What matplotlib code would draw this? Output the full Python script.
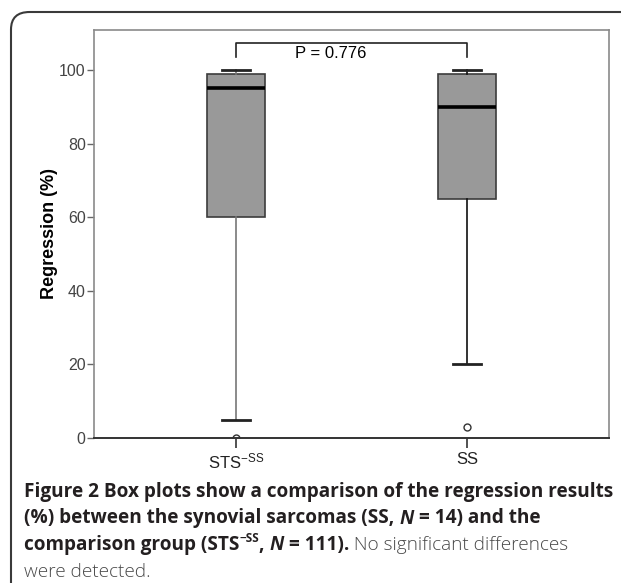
import numpy as np
import matplotlib
matplotlib.use("Agg")
import matplotlib.pyplot as plt
from matplotlib.patches import FancyBboxPatch

# ---------------------------------------------------------------------------
# Data
# ---------------------------------------------------------------------------
groups = ["STS$^{-SS}$", "SS"]
medians = [95, 90]
q1 = [60, 65]
q3 = [99, 99]
whisker_low = [5, 20]
whisker_high = [100, 100]
fliers = [[0], [3]]
p_text = "P = 0.776"

W, H = 621, 583
DPI = 100

plt.rcParams["font.family"] = ["Liberation Sans", "DejaVu Sans"]
plt.rcParams["mathtext.default"] = "regular"

fig = plt.figure(figsize=(W / DPI, H / DPI), dpi=DPI)

# rounded outer frame
frame = FancyBboxPatch((11 / W, -0.2), 1.2, 1.2 - 12 / H,
                       boxstyle="round,pad=0,rounding_size=0.03",
                       transform=fig.transFigure, fill=False,
                       ec="#3a3a3a", lw=1.5)
fig.patches.append(frame)

# plot area
ax = fig.add_axes([94 / W, 1 - 438 / H, (609 - 94) / W, (438 - 29.5) / H])

stats = []
for i, name in enumerate(groups):
    stats.append(dict(label=name, med=medians[i], q1=q1[i], q3=q3[i],
                      whislo=whisker_low[i], whishi=whisker_high[i],
                      fliers=fliers[i]))

pos = np.arange(1, len(groups) + 1)
res = ax.bxp(stats, positions=pos, widths=0.25, patch_artist=True,
             showfliers=True,
             boxprops=dict(facecolor="#999999", edgecolor="#3c3c3c", lw=1.2),
             medianprops=dict(color="black", lw=2.6),
             capprops=dict(lw=2.0),
             whiskerprops=dict(lw=1.2),
             flierprops=dict(marker="o", markersize=5, markerfacecolor="white",
                             markeredgecolor="#333333", markeredgewidth=1.0))
whisk_cols = ["#777777", "#111111"]
for i in range(len(groups)):
    for ln in res["whiskers"][2 * i:2 * i + 2]:
        ln.set_color(whisk_cols[i])
    for ln in res["caps"][2 * i:2 * i + 2]:
        ln.set_color("#222222")
        ln.set_xdata([pos[i] - 0.0625, pos[i] + 0.0625])
for fl in res["fliers"]:
    fl.set_zorder(2)

ax.set_xlim(0.385, 2.615)
ax.set_ylim(0, 111)
ax.set_yticks([0, 20, 40, 60, 80, 100])
ax.set_xticks(pos)
ax.set_xticklabels(groups)
ax.tick_params(axis="y", direction="out", length=5, width=1, colors="#666666",
               labelsize=11.5, pad=1, labelcolor="#444444")
ax.tick_params(axis="x", direction="out", length=7, width=1.2, colors="#333333",
               labelsize=12, pad=3, labelcolor="#222222")
for side in ["top", "right", "left"]:
    ax.spines[side].set_color("#8a8a8a")
    ax.spines[side].set_linewidth(1.2)
ax.spines["bottom"].set_color("#333333")
ax.spines["bottom"].set_linewidth(1.4)
ax.set_ylabel("Regression (%)", fontsize=13, fontweight="bold", labelpad=1)

# significance bracket
y_top, y_bot = 107.4, 103.6
ax.plot([pos[0], pos[0], pos[1], pos[1]], [y_bot, y_top, y_top, y_bot],
        color="#222222", lw=1.2)
ax.text(1.41, 104.4, p_text, ha="center", va="center", fontsize=12)

# ---------------------------------------------------------------------------
# Caption with mixed styles
# ---------------------------------------------------------------------------
renderer = fig.canvas.get_renderer()
CAP = ["Open Sans", "DejaVu Sans"]
size = 13.7
dark = "#231f20"
light = "#4a4a4a"


def width_of(s, **kw):
    t1 = fig.text(0, 0, "a" + s + "a", family=CAP, **kw)
    t2 = fig.text(0, 0, "aa", family=CAP, **kw)
    w = t1.get_window_extent(renderer).width - t2.get_window_extent(renderer).width
    t1.remove()
    t2.remove()
    return w


def draw_line(x, y, pieces):
    for s, kw in pieces:
        kw = dict(kw)
        rise = kw.pop("rise", 0)
        kw.setdefault("fontsize", size)
        fig.text(x / W, 1 - (y - rise) / H, s, family=CAP, va="baseline",
                 ha="left", **kw)
        x += width_of(s, **kw)


B = dict(fontweight="bold", color=dark)
BI = dict(fontweight="bold", fontstyle="italic", color=dark)
SUP = dict(fontweight="bold", color=dark, fontsize=size * 0.62, rise=7.5)
R = dict(color=light, fontweight="light")

draw_line(24, 497, [("Figure 2 Box plots show a comparison of the regression results", B)])
draw_line(24, 523.5, [("(%) between the synovial sarcomas (SS, ", B), ("N", BI),
                      (" = 14) and the", B)])
draw_line(24, 550, [("comparison group (STS", B), ("\u2212SS", SUP), (", ", B),
                    ("N", BI), (" = 111).", B), (" No significant differences", R)])
draw_line(24, 577, [("were detected.", R)])

fig.savefig("out.png", dpi=DPI)
